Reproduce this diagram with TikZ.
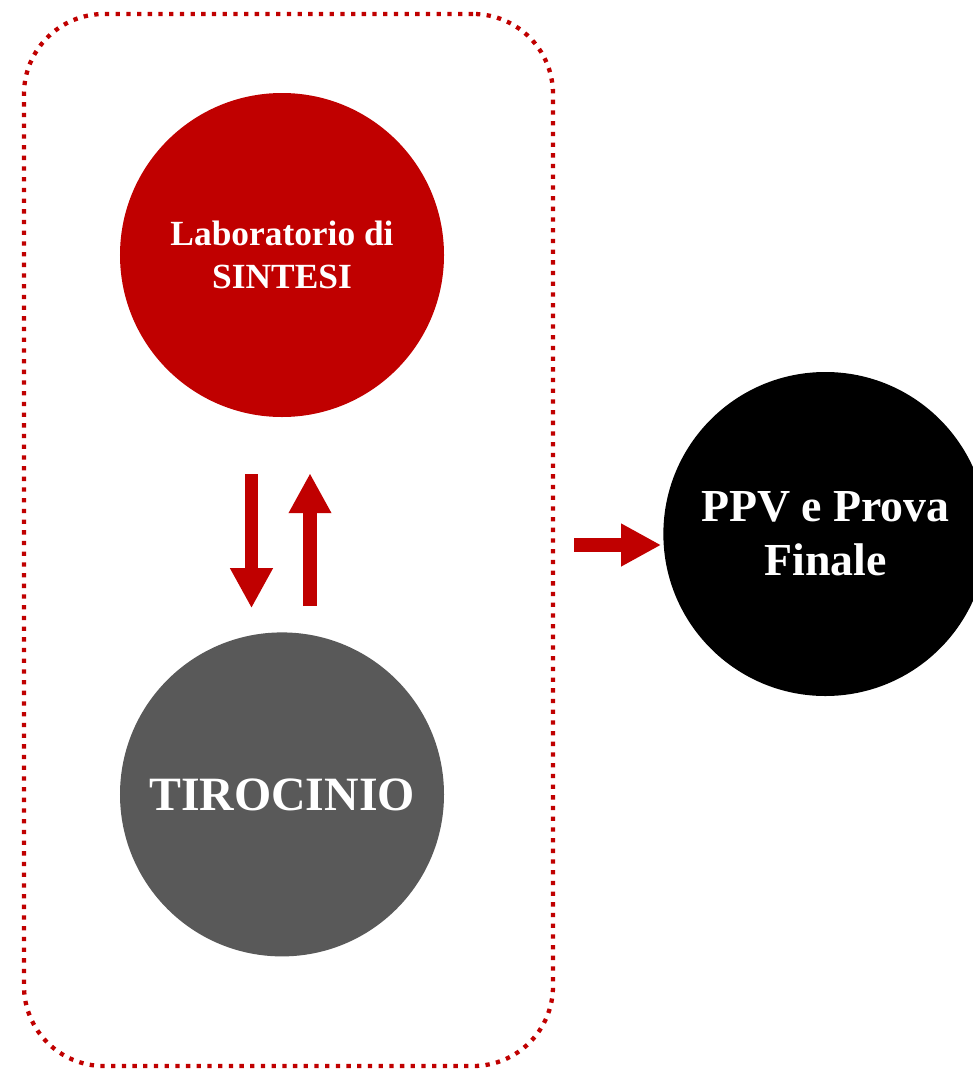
\documentclass[tikz,border=0pt]{standalone}
\usepackage{fontspec}
\setmainfont{Liberation Serif}
\usetikzlibrary{positioning,arrows.meta}
\definecolor{rosso}{HTML}{C00000}
\definecolor{grigio}{HTML}{595959}

\begin{document}
\begin{tikzpicture}
        [
            x=1bp, y=1bp,
            rednode/.style={circle, fill=rosso, text=white, minimum size=324bp, inner sep=0pt, align=center, font=\fontsize{35.5}{43}\selectfont\bfseries},
            graynode/.style={circle, fill=grigio, text=white, minimum size=324bp, inner sep=0pt, align=center, font=\fontsize{48}{54}\selectfont\bfseries},
            blacknode/.style={circle, fill=black, text=white, minimum size=324bp, inner sep=0pt, align=center, font=\fontsize{46}{54}\selectfont\bfseries},
            groupbox/.style={rectangle, draw=rosso, line width=4.3bp, dash pattern=on 4.3bp off 6.4bp, rounded corners=80bp, minimum width=529bp, minimum height=1052bp},
            bigarrow/.style={draw=rosso, line width=13.5bp, -{Triangle[width=40bp, length=40bp]}},
        ]
        \useasboundingbox (0,0) rectangle (973,-1069);

        %Nodi
        \node[rednode]      (laboratorio)   at (282,-255)                   {Laboratorio di\\SINTESI};
        \node[graynode]     (tirocinio)     [below=215bp of laboratorio]    {TIROCINIO};
        \node[groupbox]     (gruppo)        at (288.5,-540)                 {};
        \node[blacknode]    (finale)        [right=108bp of gruppo, yshift=6bp] {PPV e Prova\\Finale};

        %Frecce
        \draw[bigarrow, shorten <=57bp, shorten >=24bp] ([xshift=-30.5bp]laboratorio.south) -- ([xshift=-30.5bp]tirocinio.north);
        \draw[bigarrow, shorten <=26bp, shorten >=56bp] ([xshift=28bp]tirocinio.north) -- ([xshift=28bp]laboratorio.south);
        \draw[bigarrow, shorten <=19bp, shorten >=2bp] ([yshift=-5bp]gruppo.east) -- ([yshift=-5bp]gruppo.east -| finale.west);
    \end{tikzpicture}
\end{document}
